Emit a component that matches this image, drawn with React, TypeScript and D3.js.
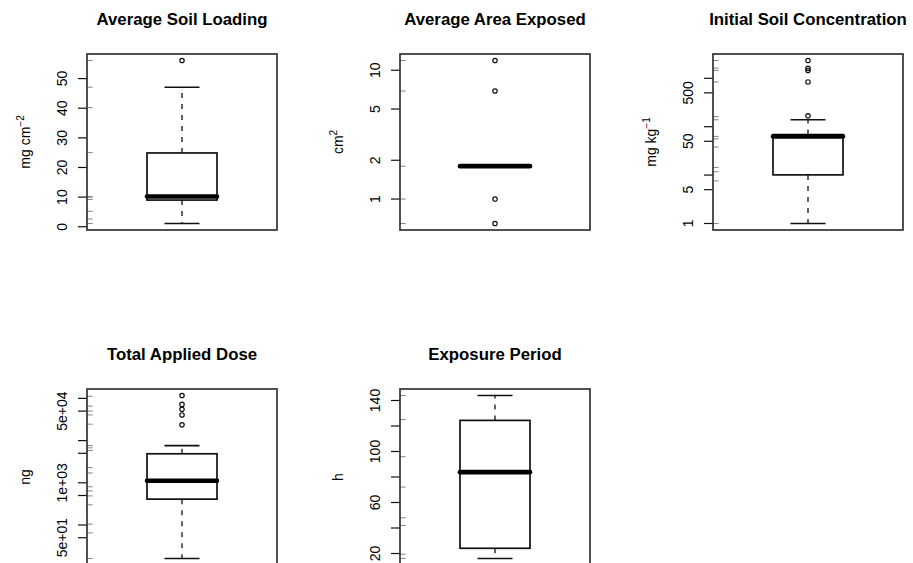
import React from 'react'
import * as d3 from 'd3'

// five boxplots, R style (2 x 3 grid, last cell empty)
const titles = ['Average Soil Loading', 'Average Area Exposed', 'Initial Soil Concentration', 'Total Applied Dose', 'Exposure Period']
const unitBase = ['mg cm', 'cm', 'mg kg', 'ng', 'h']
const unitSup = ['\u22122', '2', '\u22121', '', '']
const scaleKind = ['linear', 'log', 'log', 'log', 'linear']

const whiskerLow = [1.1, 1.8, 1.0, 16.1, 16.1]
const q1 = [9.0, 1.8, 10.1, 410, 24.1]
const medians = [10.2, 1.8, 63, 1114, 83.8]
const q3 = [24.9, 1.8, 68.7, 4870, 124.4]
const whiskerHigh = [47.1, 1.8, 139, 7620, 143.9]
const outliers = [
  [56.1],
  [11.9, 6.9, 1.0, 0.646],
  [168, 840, 1450, 1600, 2330],
  [117000, 72000, 55000, 40500, 23600],
  [],
]
const rugValues = [
  [1.1, 2.6, 5.2, 9.2, 10.0, 10.2, 25, 40.2, 47.1, 56.1],
  [0.646, 1.0, 1.8, 6.9, 11.9],
  [1.0, 7.6, 11.7, 14.4, 38, 56, 63, 139, 162, 840, 1457, 1622, 2330],
  [16.1, 65, 105, 301, 489, 640, 806, 1710, 2290, 5820, 6730, 7620, 24500, 40500, 50000, 65600, 112000],
  [16.1, 19.5, 42, 48, 72.1, 95.9, 125, 143.9],
]
const tickValues = [
  [0, 10, 20, 30, 40, 50],
  [1, 2, 5, 10],
  [1, 5, 10, 50, 100, 500, 1000],
  [10, 50, 100, 500, 1000, 5000, 10000, 50000, 100000],
  [20, 40, 60, 80, 100, 120, 140],
]
const tickLabels = [
  ['0', '10', '20', '30', '40', '50'],
  ['1', '2', '5', '10'],
  ['1', '5', '', '50', '', '500', ''],
  ['1e+01', '5e+01', '', '', '1e+03', '', '', '5e+04', ''],
  ['20', '', '60', '', '100', '', '140'],
]

const W = 913
const H = 563
const plotW = 190
const plotH = 176
const colLeft = [87, 400, 713]
const rowTop = [54, 389]
const boxW = 70
const font = 'Liberation Sans, Arial, Helvetica, sans-serif'

function Panel({ i }: { i: number }) {
  const left = colLeft[i % 3]
  const top = rowTop[Math.floor(i / 3)]
  const cx = left + plotW / 2
  const all = [...rugValues[i], ...outliers[i], whiskerLow[i], whiskerHigh[i]]
  const [lo, hi] = d3.extent(all) as [number, number]
  let y: any
  if (scaleKind[i] === 'log') {
    const a = Math.log10(lo), b = Math.log10(hi), pad = (b - a) * 0.04
    y = d3.scaleLog().domain([Math.pow(10, a - pad), Math.pow(10, b + pad)]).range([top + plotH, top])
  } else {
    const pad = (hi - lo) * 0.04
    y = d3.scaleLinear().domain([lo - pad, hi + pad]).range([top + plotH, top])
  }
  const [d0, d1] = y.domain()
  const ticks = tickValues[i].map((v, k) => ({ v, label: tickLabels[i][k] })).filter(t => t.v >= d0 && t.v <= d1)
  const ink = '#111'

  return (
    <g>
      <text x={cx} y={top - 29} textAnchor='middle' fontFamily={font} fontWeight='bold' fontSize={16.8} fill='#000'>{titles[i]}</text>
      <text transform={`translate(${left - 57},${top + plotH / 2}) rotate(-90)`} textAnchor='middle' fontFamily={font} fontSize={14} fill='#000'>
        {unitBase[i]}
        {unitSup[i] && <tspan dy={-6} fontSize={10}>{unitSup[i]}</tspan>}
      </text>

      {/* rug */}
      <g className='rug'>
        {rugValues[i].map((v, k) => (
          <line key={k} x1={left} x2={left + plotW * 0.03} y1={y(v)} y2={y(v)} stroke='#777' strokeWidth={0.9} />
        ))}
      </g>

      {/* axis */}
      <g className='axis'>
        {ticks.map((t, k) => (
          <g key={k}>
            <line x1={left - 9} x2={left} y1={y(t.v)} y2={y(t.v)} stroke={ink} strokeWidth={1.2} />
            {t.label && (
              <text transform={`translate(${left - 20.5},${y(t.v)}) rotate(-90)`} textAnchor='middle' fontFamily={font} fontSize={14} fill='#000'>{t.label}</text>
            )}
          </g>
        ))}
      </g>

      {/* whiskers */}
      <line x1={cx} x2={cx} y1={y(q3[i])} y2={y(whiskerHigh[i])} stroke={ink} strokeWidth={1.3} strokeDasharray='5,6' />
      <line x1={cx} x2={cx} y1={y(q1[i])} y2={y(whiskerLow[i])} stroke={ink} strokeWidth={1.3} strokeDasharray='5,6' />
      <line x1={cx - boxW / 4} x2={cx + boxW / 4} y1={y(whiskerHigh[i])} y2={y(whiskerHigh[i])} stroke={ink} strokeWidth={1.6} />
      <line x1={cx - boxW / 4} x2={cx + boxW / 4} y1={y(whiskerLow[i])} y2={y(whiskerLow[i])} stroke={ink} strokeWidth={1.6} />

      {/* box */}
      <rect x={cx - boxW / 2} y={y(q3[i])} width={boxW} height={Math.max(0, y(q1[i]) - y(q3[i]))} fill='white' stroke={ink} strokeWidth={1.7} />
      <line x1={cx - boxW / 2} x2={cx + boxW / 2} y1={y(medians[i])} y2={y(medians[i])} stroke='#000' strokeWidth={4.6} strokeLinecap='round' />

      {outliers[i].map((v, k) => (
        <circle key={k} cx={cx} cy={y(v)} r={2.2} fill='none' stroke={ink} strokeWidth={1.2} />
      ))}

      <rect x={left} y={top} width={plotW} height={plotH} fill='none' stroke='#333' strokeWidth={1.7} />
    </g>
  )
}

export default function App() {
  return (
    <svg width={W} height={H} style={{ position: 'absolute', left: 0, top: 0, background: 'white' }}>
      <rect width={W} height={H} fill='white' />
      {titles.map((t, i) => <Panel key={t} i={i} />)}
    </svg>
  )
}
